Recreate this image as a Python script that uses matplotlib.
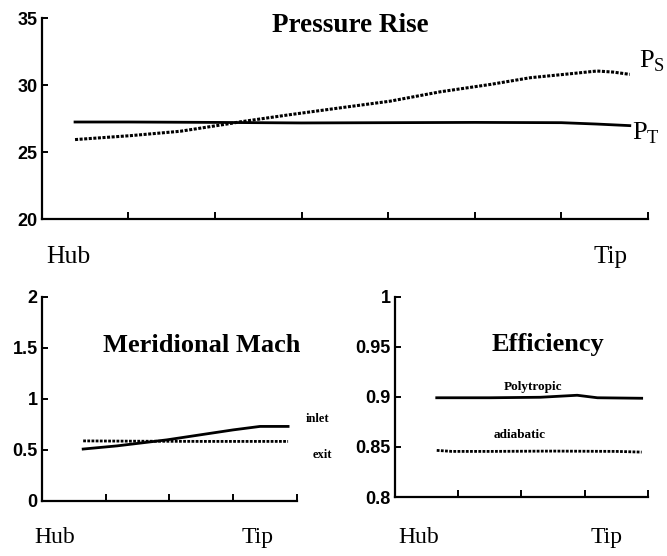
import numpy as np
import matplotlib
matplotlib.use("Agg")
import matplotlib.pyplot as plt

plt.rcParams['mathtext.fontset'] = 'custom'
plt.rcParams['mathtext.rm'] = 'Liberation Serif'

# span position (hub = 0), in tick units
ps_x = [0.385, 1.02, 1.60, 2.17, 2.29, 2.87, 3.44, 4.02, 4.60, 5.18, 5.64, 6.14, 6.41, 6.60, 6.79]
ps_y = [25.94, 26.23, 26.56, 27.13, 27.26, 27.8, 28.3, 28.8, 29.5, 30.05, 30.55, 30.87, 31.05, 30.97, 30.8]
pt_x = [0.385, 1.0, 2.0, 3.0, 4.0, 5.0, 6.0, 6.4, 6.79]
pt_y = [27.25, 27.25, 27.22, 27.18, 27.2, 27.22, 27.2, 27.1, 26.98]

inlet_x = [0.65, 1.18, 1.96, 2.48, 3.0, 3.42, 3.86]
inlet_y = [0.505, 0.536, 0.595, 0.644, 0.693, 0.727, 0.727]
exit_x = [0.65, 1.5, 2.5, 3.86]
exit_y = [0.585, 0.582, 0.58, 0.58]

poly_x = [0.66, 1.5, 2.3, 2.88, 3.2, 3.9]
poly_y = [0.899, 0.899, 0.8995, 0.9015, 0.899, 0.8985]
adia_x = [0.66, 0.9, 1.5, 2.5, 3.5, 3.9]
adia_y = [0.8465, 0.8455, 0.8455, 0.8458, 0.8455, 0.8448]

W, H = 667, 556
fig = plt.figure(figsize=(W / 100, H / 100), dpi=100)

def px(x, y):
    return x / W, 1 - y / H

serif = 'Liberation Serif'
dots = (0, (1.0, 0.5))

def style(ax, xmax, ylim, yticks, ylabels):
    ax.set_xlim(0, xmax)
    ax.set_ylim(*ylim)
    ax.set_xticks(range(1, xmax + 1))
    ax.set_xticklabels([])
    ax.set_yticks(yticks)
    ax.set_yticklabels(ylabels, family='Liberation Sans', fontsize=13, weight='bold')
    for s in ['top', 'right']:
        ax.spines[s].set_visible(False)
    for s in ['left', 'bottom']:
        ax.spines[s].set_linewidth(1.6)
    ax.tick_params(direction='in', length=4, width=1.4, pad=3)
    ax.tick_params(axis='x', length=5)

# top: pressure rise
ax1 = fig.add_axes([0.0625, 0.6056, 0.909, 0.362])
ax1.plot(ps_x, ps_y, color='black', lw=2.2, ls=dots)
ax1.plot(pt_x, pt_y, color='black', lw=2.0)
style(ax1, 7, (20, 35), [20, 25, 30, 35], ['20', '25', '30', '35'])

# bottom left: meridional mach
ax2 = fig.add_axes([0.0625, 0.0998, 0.3828, 0.3666])
ax2.plot(inlet_x, inlet_y, color='black', lw=2.0)
ax2.plot(exit_x, exit_y, color='black', lw=2.0, ls=dots)
style(ax2, 4, (0, 2), [0, 0.5, 1, 1.5, 2], ['0', '0.5', '1', '1.5', '2'])

# bottom right: efficiency
ax3 = fig.add_axes([0.5922, 0.1061, 0.3793, 0.3606])
ax3.plot(poly_x, poly_y, color='black', lw=2.0)
ax3.plot(adia_x, adia_y, color='black', lw=2.0, ls=dots)
style(ax3, 4, (0.8, 1.0), [0.8, 0.85, 0.9, 0.95, 1.0], ['0.8', '0.85', '0.9', '0.95', '1'])

# titles
fig.text(*px(350, 32), 'Pressure Rise', family=serif, weight='bold', fontsize=19.5, ha='center', va='baseline')
fig.text(*px(202, 352), 'Meridional Mach', family=serif, weight='bold', fontsize=19, ha='center', va='baseline')
fig.text(*px(548, 351), 'Efficiency', family=serif, weight='bold', fontsize=19, ha='center', va='baseline')

# curve labels
fig.text(*px(639, 67), r'$\mathrm{P}_\mathrm{S}$', fontsize=19, ha='left', va='baseline')
fig.text(*px(632, 139), r'$\mathrm{P}_\mathrm{T}$', fontsize=19, ha='left', va='baseline')
fig.text(*px(317, 422), 'inlet', family=serif, weight='bold', fontsize=9, ha='center', va='baseline')
fig.text(*px(322, 458), 'exit', family=serif, weight='bold', fontsize=9, ha='center', va='baseline')
fig.text(*px(533, 390), 'Polytropic', family=serif, weight='bold', fontsize=9.5, ha='center', va='baseline')
fig.text(*px(520, 438), 'adiabatic', family=serif, weight='bold', fontsize=9.5, ha='center', va='baseline')

# hub / tip
for x, y, s, fs in [(68, 263, 'Hub', 18.5), (610, 263, 'Tip', 18), (55, 543, 'Hub', 17),
                    (258, 543, 'Tip', 17), (419, 543, 'Hub', 17), (607, 543, 'Tip', 17)]:
    fig.text(*px(x, y), s, family=serif, fontsize=fs, ha='center', va='baseline')

fig.savefig('out.png', dpi=100)
